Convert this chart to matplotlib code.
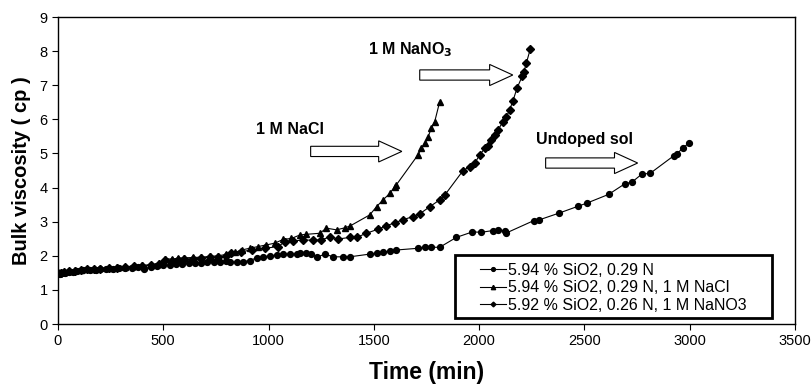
import matplotlib
matplotlib.use("Agg")
import matplotlib.pyplot as plt
from matplotlib.patches import FancyArrow, Rectangle

plt.rcParams['font.family'] = ['Liberation Sans', 'DejaVu Sans']

# Undoped sol: 5.94 % SiO2, 0.29 N
t_undoped = [0, 10, 20, 35, 50, 70, 90, 120, 150, 180, 200, 230, 260, 290, 320, 350,
             380, 410, 440, 470, 500, 530, 560, 590, 620, 650, 680, 710, 740, 770,
             800, 816, 848, 879, 911, 943, 975, 1006, 1038, 1069, 1101, 1133, 1149,
             1180, 1204, 1231, 1267, 1307, 1354, 1386, 1481, 1513, 1544, 1576, 1607,
             1710, 1742, 1773, 1813, 1892, 1968, 2011, 2066, 2090, 2121, 2126, 2259,
             2284, 2379, 2469, 2514, 2615, 2692, 2726, 2772, 2813, 2924, 2939, 2968,
             2995]
v_undoped = [1.47, 1.48, 1.50, 1.50, 1.52, 1.53, 1.55, 1.57, 1.58, 1.58, 1.60, 1.60,
             1.62, 1.63, 1.63, 1.65, 1.67, 1.62, 1.68, 1.70, 1.72, 1.73, 1.75, 1.76,
             1.78, 1.78, 1.80, 1.82, 1.82, 1.83, 1.84, 1.81, 1.81, 1.83, 1.86, 1.94,
             1.97, 2.00, 2.02, 2.04, 2.05, 2.05, 2.07, 2.07, 2.05, 1.96, 2.05, 1.97,
             1.97, 1.97, 2.05, 2.07, 2.10, 2.14, 2.17, 2.22, 2.25, 2.25, 2.25, 2.54,
             2.70, 2.69, 2.74, 2.75, 2.74, 2.66, 3.03, 3.05, 3.25, 3.45, 3.55, 3.80,
             4.11, 4.16, 4.39, 4.42, 4.93, 4.99, 5.16, 5.30]

# 1 M NaCl: 5.94 % SiO2, 0.29 N
t_nacl = [0, 15, 30, 50, 80, 110, 140, 170, 200, 240, 280, 320, 360, 400, 440, 480,
          510, 540, 570, 600, 640, 680, 720, 760, 800, 840, 872, 910, 950, 990, 1030,
          1069, 1109, 1149, 1180, 1243, 1275, 1323, 1362, 1386, 1481, 1513, 1544,
          1576, 1599, 1607, 1710, 1726, 1742, 1758, 1773, 1789, 1813]
v_nacl = [1.50, 1.52, 1.53, 1.55, 1.57, 1.59, 1.60, 1.62, 1.63, 1.65, 1.66, 1.68,
          1.70, 1.72, 1.74, 1.78, 1.92, 1.90, 1.93, 1.94, 1.95, 1.96, 1.98, 2.00,
          2.04, 2.10, 2.17, 2.22, 2.27, 2.32, 2.37, 2.48, 2.51, 2.61, 2.63, 2.66,
          2.81, 2.76, 2.82, 2.87, 3.20, 3.44, 3.64, 3.83, 4.03, 4.08, 4.96, 5.15,
          5.30, 5.49, 5.74, 5.93, 6.52]

# 1 M NaNO3: 5.92 % SiO2, 0.26 N
t_nano3 = [0, 15, 30, 50, 80, 110, 140, 170, 200, 240, 280, 320, 360, 400, 440, 480,
           510, 540, 570, 600, 640, 680, 720, 760, 800, 824, 870, 920, 982, 1046,
           1077, 1117, 1164, 1212, 1251, 1291, 1330, 1386, 1418, 1465, 1520, 1560,
           1600, 1640, 1686, 1718, 1766, 1813, 1837, 1924, 1955, 1979, 2003, 2027,
           2042, 2058, 2074, 2090, 2113, 2129, 2145, 2161, 2180, 2205, 2213, 2224,
           2243]
v_nano3 = [1.50, 1.51, 1.53, 1.55, 1.56, 1.58, 1.60, 1.61, 1.62, 1.64, 1.65, 1.67,
           1.69, 1.70, 1.72, 1.75, 1.88, 1.86, 1.88, 1.90, 1.92, 1.94, 1.95, 1.96,
           1.98, 2.07, 2.12, 2.17, 2.22, 2.27, 2.41, 2.44, 2.46, 2.46, 2.46, 2.56,
           2.49, 2.54, 2.54, 2.66, 2.78, 2.88, 2.97, 3.06, 3.15, 3.23, 3.44, 3.64,
           3.78, 4.50, 4.61, 4.71, 4.96, 5.15, 5.22, 5.40, 5.54, 5.69, 5.93, 6.06,
           6.28, 6.55, 6.91, 7.27, 7.40, 7.64, 8.06]

series_labels = ["5.94 % SiO2, 0.29 N",
                 "5.94 % SiO2, 0.29 N, 1 M NaCl",
                 "5.92 % SiO2, 0.26 N, 1 M NaNO3"]

fig = plt.figure(figsize=(8.12, 3.85), dpi=100)
ax = fig.add_axes([0.0714, 0.1584, 0.9076, 0.7974])

ax.plot(t_undoped, v_undoped, color='black', lw=0.8, marker='o', ms=4.2,
        label=series_labels[0])
ax.plot(t_nacl, v_nacl, color='black', lw=0.8, marker='^', ms=4.8,
        label=series_labels[1])
ax.plot(t_nano3, v_nano3, color='black', lw=0.8, marker='D', ms=3.7,
        label=series_labels[2])

ax.set_xlim(0, 3500)
ax.set_ylim(0, 9)
ax.set_xticks(range(0, 3501, 500))
ax.set_yticks(range(0, 10))
ax.tick_params(direction='out', length=4, width=0.8, labelsize=10.5, colors='black')
for s in ax.spines.values():
    s.set_color('black')
    s.set_linewidth(1.0)

ax.set_xlabel('Time (min)', fontsize=16.5, fontweight='bold', labelpad=9)
ax.set_ylabel('Bulk viscosity ( cp )', fontsize=14.5, fontweight='bold', labelpad=6)

# annotations with hollow block arrows
ax.text(1101, 5.69, '1 M NaCl', fontsize=11.5, fontweight='bold', ha='center', va='center')
ax.text(1675, 8.03, '1 M NaNO$_\\mathbf{3}$', fontsize=11.5, fontweight='bold',
        ha='center', va='center')
ax.text(2501, 5.40, 'Undoped sol', fontsize=11.5, fontweight='bold', ha='center', va='center')

for x0, x1, y in [(1200, 1633, 5.06), (1718, 2160, 7.3), (2316, 2753, 4.72)]:
    ax.add_patch(FancyArrow(x0, y, x1 - x0, 0, width=0.3, head_width=0.62,
                            head_length=110, length_includes_head=True,
                            fc='white', ec='black', lw=0.8))

# legend box drawn separately so the entries sit inset like the original
ax.add_patch(Rectangle((0.5387, 0.0195), 0.4301, 0.2053, transform=ax.transAxes,
                       fc='white', ec='black', lw=2.0, zorder=4))
leg = ax.legend(loc='upper left', bbox_to_anchor=(0.562, 0.225), fontsize=11.5,
                handlelength=1.6, handletextpad=0.15, markerscale=0.65,
                frameon=False, borderpad=0, labelspacing=0.15)
leg.set_zorder(5)

fig.savefig('out.png', dpi=100)
